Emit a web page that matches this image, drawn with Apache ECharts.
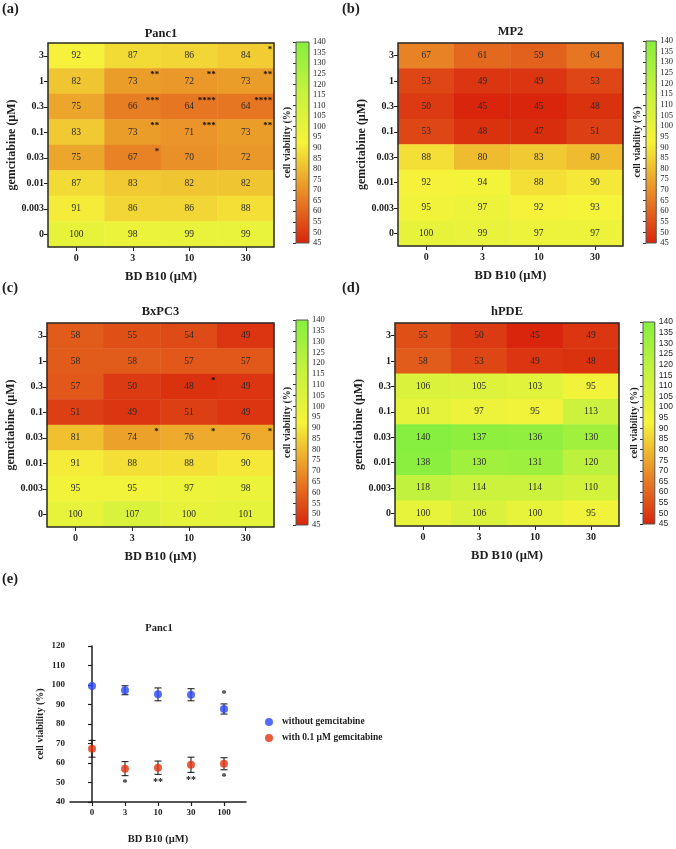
<!DOCTYPE html>
<html><head><meta charset="utf-8">
<script src="https://cdn.jsdelivr.net/npm/echarts@6/dist/echarts.min.js"></script>
<style>html,body{margin:0;padding:0;background:#fff}#c{width:676px;height:849px}</style>
</head><body><div id="c"></div>
<script>
// ---------- DATA ----------
const bdCats = ['0', '3', '10', '30'];
const gemCatsTopDown = ['3', '1', '0.3', '0.1', '0.03', '0.01', '0.003', '0'];

const panc1Vals = [
  [92, 87, 86, 84],
  [82, 73, 72, 73],
  [75, 66, 64, 64],
  [83, 73, 71, 73],
  [75, 67, 70, 72],
  [87, 83, 82, 82],
  [91, 86, 86, 88],
  [100, 98, 99, 99]
];
const panc1Stars = [
  ['', '', '', '*'],
  ['', '**', '**', '**'],
  ['', '***', '****', '****'],
  ['', '**', '***', '**'],
  ['', '*', '', ''],
  ['', '', '', ''],
  ['', '', '', ''],
  ['', '', '', '']
];
const mp2Vals = [
  [67, 61, 59, 64],
  [53, 49, 49, 53],
  [50, 45, 45, 48],
  [53, 48, 47, 51],
  [88, 80, 83, 80],
  [92, 94, 88, 90],
  [95, 97, 92, 93],
  [100, 99, 97, 97]
];
const bxpc3Vals = [
  [58, 55, 54, 49],
  [58, 58, 57, 57],
  [57, 50, 48, 49],
  [51, 49, 51, 49],
  [81, 74, 76, 76],
  [91, 88, 88, 90],
  [95, 95, 97, 98],
  [100, 107, 100, 101]
];
const bxpc3Stars = [
  ['', '', '', ''],
  ['', '', '', ''],
  ['', '', '*', ''],
  ['', '', '', ''],
  ['', '*', '*', '*'],
  ['', '', '', ''],
  ['', '', '', ''],
  ['', '', '', '']
];
const hpdeVals = [
  [55, 50, 45, 49],
  [58, 53, 49, 48],
  [106, 105, 103, 95],
  [101, 97, 95, 113],
  [140, 137, 136, 130],
  [138, 130, 131, 120],
  [118, 114, 114, 110],
  [100, 106, 100, 95]
];
const cbMin = 45, cbMax = 140, cbStep = 5;

// Panel (e)
const eCats = ['0', '3', '10', '30', '100'];
const withoutGem = [99.5, 97.3, 95.2, 95.0, 87.7];
const withoutGemErr = [0, 2.3, 3.3, 3.1, 2.6];
const withoutGemStars = ['', '', '', '', '*'];
const withGem = [67.3, 57.1, 57.6, 59.1, 59.6];
const withGemErr = [4.3, 3.6, 3.4, 3.9, 3.1];
const withGemStars = ['', '*', '**', '**', '*'];
const eYTicks = [40, 120, 10];

// ---------- STYLE ----------
const SERIF = '"Liberation Serif","Times New Roman",serif';
const SANS = '"Liberation Sans",Arial,sans-serif';
const INK = '#1e1e1e';
const heatColors = ['#d8250c', '#e98a27', '#f6f33a', '#c6f23d', '#86ef3f'];
const blueC = '#2b47f6', redC = '#e4320f';

const panels = [
  {title: 'Panc1', vals: panc1Vals, stars: panc1Stars, tag: '(a)', tagPos: [2, 2], titleY: 27,
   grid: {left: 48, top: 43, width: 226, height: 204}, cb: {left: 296, top: 42, width: 13, height: 201}, cbFont: SERIF},
  {title: 'MP2', vals: mp2Vals, stars: null, tag: '(b)', tagPos: [342, 2], titleY: 25,
   grid: {left: 398, top: 43, width: 225, height: 203}, cb: {left: 646, top: 41, width: 13, height: 202}, cbFont: SERIF},
  {title: 'BxPC3', vals: bxpc3Vals, stars: bxpc3Stars, tag: '(c)', tagPos: [2, 281], titleY: 305,
   grid: {left: 47, top: 323, width: 227, height: 204}, cb: {left: 296, top: 320, width: 12, height: 205}, cbFont: SERIF},
  {title: 'hPDE', vals: hpdeVals, stars: null, tag: '(d)', tagPos: [342, 281], titleY: 305,
   grid: {left: 395, top: 323, width: 224, height: 203}, cb: {left: 643, top: 322, width: 12, height: 202}, cbFont: SANS}
];

const grids = [], xAxes = [], yAxes = [], series = [], titles = [], heatSeriesIdx = [];
const gemCatsBottomUp = gemCatsTopDown.slice().reverse();
const nRows = gemCatsTopDown.length;

panels.forEach(p => {
  // heatmap grid
  const gi = grids.length;
  grids.push(Object.assign({show: true, z: 5, backgroundColor: 'transparent', borderColor: '#2a2a2a', borderWidth: 1.5}, p.grid));
  const xi = xAxes.length;
  xAxes.push({
    type: 'category', gridIndex: gi, data: bdCats,
    axisLine: {show: false},
    axisTick: {show: true, alignWithLabel: true, length: 4, lineStyle: {color: INK, width: 1}},
    axisLabel: {fontFamily: SERIF, fontWeight: 'bold', fontSize: 10, color: INK, margin: 6},
    splitLine: {show: false},
    name: 'BD B10 (µM)', nameLocation: 'middle', nameGap: 23,
    nameTextStyle: {fontFamily: SERIF, fontWeight: 'bold', fontSize: 12.5, color: INK}
  });
  const yi = yAxes.length;
  yAxes.push({
    type: 'category', gridIndex: gi, data: gemCatsBottomUp,
    axisLine: {show: false},
    axisTick: {show: true, alignWithLabel: true, length: 4, lineStyle: {color: INK, width: 1}},
    axisLabel: {fontFamily: SERIF, fontWeight: 'bold', fontSize: 10, color: INK, margin: 4},
    splitLine: {show: false},
    name: 'gemcitabine (µM)', nameLocation: 'middle', nameGap: 20, nameRotate: 90,
    nameTextStyle: {fontFamily: SERIF, fontWeight: 'bold', fontSize: 12, color: INK}
  });
  const data = [], starData = [];
  p.vals.forEach((row, r) => row.forEach((v, c) => {
    data.push([c, nRows - 1 - r, v]);
    if (p.stars && p.stars[r][c]) starData.push({value: [c, nRows - 1 - r, 0], star: p.stars[r][c]});
  }));
  heatSeriesIdx.push(series.length);
  series.push({
    type: 'heatmap', xAxisIndex: xi, yAxisIndex: yi, data: data, silent: true,
    label: {show: true, formatter: q => q.value[2], fontFamily: SERIF, fontSize: 9.5, color: '#2a2a2a'},
    itemStyle: {borderWidth: 0}
  });
  if (starData.length) {
    series.push({
      type: 'heatmap', xAxisIndex: xi, yAxisIndex: yi, data: starData, silent: true,
      itemStyle: {color: 'rgba(0,0,0,0)'},
      label: {show: true, position: 'insideTopRight', distance: 2, formatter: q => q.data.star,
        fontFamily: SERIF, fontWeight: 'bold', fontSize: 9, color: '#111'}
    });
  }
  // colorbar grid
  const cgi = grids.length;
  grids.push(Object.assign({show: false}, p.cb));
  const cxi = xAxes.length;
  xAxes.push({type: 'value', gridIndex: cgi, min: 0, max: 1, show: false});
  const cyi = yAxes.length;
  yAxes.push({
    type: 'value', gridIndex: cgi, min: cbMin, max: cbMax, interval: cbStep, position: 'right',
    axisLine: {show: false},
    axisTick: {show: true, inside: true, length: 3, lineStyle: {color: '#333', width: 1}},
    axisLabel: {fontFamily: p.cbFont, fontSize: 8.5, color: INK, margin: 4},
    splitLine: {show: false}
  });
  yAxes.push({
    type: 'value', gridIndex: cgi, min: cbMin, max: cbMax, position: 'left',
    axisLine: {show: false}, axisTick: {show: false}, axisLabel: {show: false}, splitLine: {show: false},
    name: 'cell viability (%)', nameLocation: 'middle', nameGap: 4, nameRotate: 90,
    nameTextStyle: {fontFamily: SERIF, fontWeight: 'bold', fontSize: 10, color: INK}
  });
  const stops = heatColors.map((c, i) => ({offset: i / (heatColors.length - 1), color: c}));
  series.push({
    type: 'custom', xAxisIndex: cxi, yAxisIndex: cyi, silent: true,
    data: [[0, cbMin, cbMax]],
    renderItem: (params, api) => {
      const b = api.coord([0, api.value(1)]);
      const t = api.coord([1, api.value(2)]);
      return {type: 'rect', shape: {x: b[0], y: t[1], width: t[0] - b[0], height: b[1] - t[1]},
        style: {fill: new echarts.graphic.LinearGradient(0, 1, 0, 0, stops), stroke: '#555', lineWidth: 1}};
    }
  });
  titles.push({text: p.title, left: p.grid.left + p.grid.width / 2, top: p.titleY, textAlign: 'center', padding: 0,
    textStyle: {fontFamily: SERIF, fontWeight: 'bold', fontSize: 12.5, color: INK}});
  titles.push({text: p.tag, left: p.tagPos[0], top: p.tagPos[1], padding: 0,
    textStyle: {fontFamily: SERIF, fontWeight: 'bold', fontSize: 14.5, color: INK}});
});

// ---------- Panel (e) ----------
const egi = grids.length;
grids.push({left: 70, top: 646, width: 176, height: 156, show: false});
const exi = xAxes.length;
const eIdx = eCats.map((c, i) => i);
xAxes.push({
  type: 'value', gridIndex: egi, min: -2 / 3, max: eCats.length - 1 + 2 / 3,
  axisLine: {show: true, lineStyle: {color: INK, width: 1.5}},
  axisTick: {show: true, customValues: eIdx, length: 4, lineStyle: {color: INK, width: 1.2}},
  axisLabel: {show: true, customValues: eIdx, formatter: v => eCats[Math.round(v)],
    fontFamily: SERIF, fontWeight: 'bold', fontSize: 9, color: INK, margin: 6},
  splitLine: {show: false},
  name: 'BD B10 (µM)', nameLocation: 'middle', nameGap: 32,
  nameTextStyle: {fontFamily: SERIF, fontWeight: 'bold', fontSize: 10.5, color: INK}
});
const eyi = yAxes.length;
yAxes.push({
  type: 'value', gridIndex: egi, min: eYTicks[0], max: eYTicks[1], interval: eYTicks[2],
  axisLine: {show: true, lineStyle: {color: INK, width: 1.5}},
  axisTick: {show: true, length: 4, lineStyle: {color: INK, width: 1.2}},
  axisLabel: {fontFamily: SERIF, fontWeight: 'bold', fontSize: 9, color: INK, margin: 5},
  splitLine: {show: false},
  name: 'cell viability (%)', nameLocation: 'middle', nameGap: 25, nameRotate: 90,
  nameTextStyle: {fontFamily: SERIF, fontWeight: 'bold', fontSize: 10, color: INK}
});

function errSeries(vals, errs, stars, above) {
  return {
    type: 'custom', xAxisIndex: exi, yAxisIndex: eyi, silent: true, z: 2,
    data: vals.map((v, i) => [i, v, errs[i]]),
    renderItem: (params, api) => {
      const x = api.value(0), v = api.value(1), e = api.value(2);
      const t = api.coord([x, v + e]), b = api.coord([x, v - e]);
      const hw = 3.5, ch = [];
      const ls = {stroke: '#111', lineWidth: 1};
      if (e > 0) {
        ch.push({type: 'line', shape: {x1: t[0], y1: t[1], x2: b[0], y2: b[1]}, style: ls});
        ch.push({type: 'line', shape: {x1: t[0] - hw, y1: t[1], x2: t[0] + hw, y2: t[1]}, style: ls});
        ch.push({type: 'line', shape: {x1: b[0] - hw, y1: b[1], x2: b[0] + hw, y2: b[1]}, style: ls});
      }
      const s = stars[params.dataIndex];
      if (s) {
        ch.push({type: 'text', style: {text: s, x: t[0], y: above ? t[1] - 4 : b[1] + 3,
          textAlign: 'center', textVerticalAlign: above ? 'bottom' : 'top',
          fontFamily: SERIF, fontWeight: 'bold', fontSize: 10, fill: '#111'}});
      }
      return {type: 'group', children: ch};
    }
  };
}
series.push(errSeries(withoutGem, withoutGemErr, withoutGemStars, true));
series.push(errSeries(withGem, withGemErr, withGemStars, false));
series.push({type: 'scatter', name: 'without gemcitabine', xAxisIndex: exi, yAxisIndex: eyi, z: 3,
  symbol: 'circle', symbolSize: 8, itemStyle: {color: blueC}, data: withoutGem.map((v, i) => [i, v])});
series.push({type: 'scatter', name: 'with 0.1 µM gemcitabine', xAxisIndex: exi, yAxisIndex: eyi, z: 3,
  symbol: 'circle', symbolSize: 8, itemStyle: {color: redC}, data: withGem.map((v, i) => [i, v])});

titles.push({text: 'Panc1', left: 159, top: 623, textAlign: 'center', padding: 0,
  textStyle: {fontFamily: SERIF, fontWeight: 'bold', fontSize: 10.5, color: INK}});
titles.push({text: '(e)', left: 2, top: 572, padding: 0,
  textStyle: {fontFamily: SERIF, fontWeight: 'bold', fontSize: 14.5, color: INK}});

const chart = echarts.init(document.getElementById('c'), null, {renderer: 'canvas'});
chart.setOption({
  animation: false,
  backgroundColor: '#ffffff',
  title: titles,
  grid: grids,
  xAxis: xAxes,
  yAxis: yAxes,
  visualMap: {show: false, type: 'continuous', min: cbMin, max: cbMax, seriesIndex: heatSeriesIdx,
    dimension: 2, inRange: {color: heatColors}},
  legend: {orient: 'vertical', left: 260, top: 712, itemWidth: 16, itemHeight: 8, itemGap: 6,
    icon: 'circle', data: ['without gemcitabine', 'with 0.1 µM gemcitabine'],
    textStyle: {fontFamily: SERIF, fontWeight: 'bold', fontSize: 9.5, color: INK}},
  series: series
});
</script>
</body></html>
